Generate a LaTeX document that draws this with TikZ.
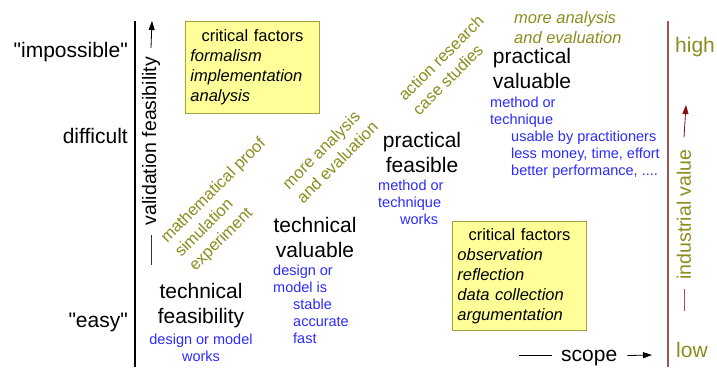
\documentclass[tikz,border=0pt]{standalone}
\usepackage{fontspec}
\setmainfont{Liberation Sans}
\newfontfamily\quotefont{Liberation Sans}
\usepackage{xcolor}
\usetikzlibrary{arrows.meta, positioning}
\definecolor{methodolive}{HTML}{8C8C1E}
\definecolor{detailblue}{HTML}{2B2BFF}
\definecolor{factorfill}{HTML}{FFFF99}
\definecolor{factorline}{HTML}{A3A33A}
\definecolor{valuered}{HTML}{A85454}
\definecolor{valuedark}{HTML}{8B0A0A}

\begin{document}
\begin{tikzpicture}[x=1pt, y=-1pt,
  level label/.style={font=\fontsize{21}{25}\selectfont, inner sep=0pt},
  axis label/.style={font=\fontsize{19.5}{23}\selectfont, inner sep=0pt, rotate=90},
  stage/.style={font=\fontsize{21}{25}\selectfont, align=center, inner sep=0pt},
  detail/.style={detailblue, font=\fontsize{14.5}{17}\selectfont, align=left, inner sep=0pt, anchor=north west},
  method/.style={methodolive, font=\fontsize{16.5}{20}\selectfont, align=left, inner sep=0pt, rotate=45},
  factor box/.style={draw=factorline, fill=factorfill, line width=0.8pt, font=\fontsize{16.5}{20}\selectfont, text width=124pt, inner sep=5pt, anchor=north west},
  axis tip/.style={-{Triangle[length=9pt, width=6pt]}}
]
  \useasboundingbox (0,0) rectangle (717,367);

  % Left axis - validation feasibility
  \draw[line width=1.2pt] (135,21) -- (135,367);
  \node[level label, anchor=base east] (impossible) at (128,57) {\quotefont"impossible"};
  \node[level label, anchor=base east] (difficult) at (128,143) {difficult};
  \node[level label, anchor=base east] (easy) at (128,327) {\quotefont"easy"};

  \node[axis label] (feasibility) at (151,141) {validation feasibility};
  \coordinate (feasibility tip) at (152,21);
  \draw[line width=0.8pt, black!80] ([yshift=-10pt]feasibility.west) -- ([yshift=-40pt]feasibility.west);
  \draw[axis tip, line width=0.8pt] ([yshift=9pt]feasibility.east) -- (feasibility tip);

  % Right axis - industrial value
  \draw[valuered, line width=2pt] (668,21) -- (668,367);
  \node[level label, methodolive, anchor=base west] (high) at (675,52) {high};
  \node[level label, methodolive, anchor=base west] (low) at (676,357) {low};

  \node[axis label, methodolive] (value) at (684,214.5) {industrial value};
  \coordinate (value tip) at (686,105);
  \draw[valuered, line width=0.8pt] ([yshift=-9pt]value.west) -- ([yshift=-31pt]value.west);
  \draw[axis tip, valuedark, line width=0.8pt] ([yshift=12pt]value.east) -- (value tip);

  % Bottom - scope
  \node[level label, anchor=base west] (scope) at (561,361) {scope};
  \coordinate (scope tip) at (652,355);
  \draw[line width=0.8pt] ([xshift=-9pt, yshift=2pt]scope.west) -- ++(-33pt,0);
  \draw[axis tip, line width=0.8pt] ([xshift=10pt, yshift=2pt]scope.east) -- (scope tip);

  % Stages
  \node[stage] (tech feas) at (201,306) {technical\\feasibility};
  \node[stage] (tech val) at (315,237) {technical\\valuable};
  \node[stage] (prac feas) at (422,152) {practical\\feasible};
  \node[stage] (prac val) at (532,68) {practical\\valuable};

  % What each stage shows
  \node[detail, align=center, anchor=north] (tech feas works) at (201,334) {design or model\\works};
  \node[detail] (tech val works) at (273,265) {design or\\model is\\\hspace*{20pt}stable\\\hspace*{20pt}accurate\\\hspace*{20pt}fast};
  \node[detail] (prac feas works) at (378,180) {method or\\technique\\\hspace*{22pt}works};
  \node[detail] (prac val works) at (490,97) {method or\\technique\\\hspace*{21pt}usable by practitioners\\\hspace*{21pt}less money, time, effort\\\hspace*{21pt}better performance, ....};

  % How to get to the next stage
  \node[method] (proof) at (228,205) {mathematical proof\\simulation\\experiment};
  \node[method] (more tech) at (330,155) {more analysis\\and evaluation};
  \node[method] (action) at (448,65) {action research\\case studies};
  \node[methodolive, font=\fontsize{16.5}{20}\selectfont\itshape, align=left, inner sep=0pt, anchor=north west] (more prac) at (514,11.5) {more analysis\\and evaluation};

  % Critical factors
  \node[factor box, minimum height=92pt] (factors top) at (185,21)
    {{\centering critical factors\par}\raggedright\itshape formalism\\implementation\\analysis};
  \node[factor box, minimum height=109pt] (factors bottom) at (452,221)
    {{\centering critical factors\par}\raggedright\itshape observation\\reflection\\data collection\\argumentation};
\end{tikzpicture}
\end{document}
